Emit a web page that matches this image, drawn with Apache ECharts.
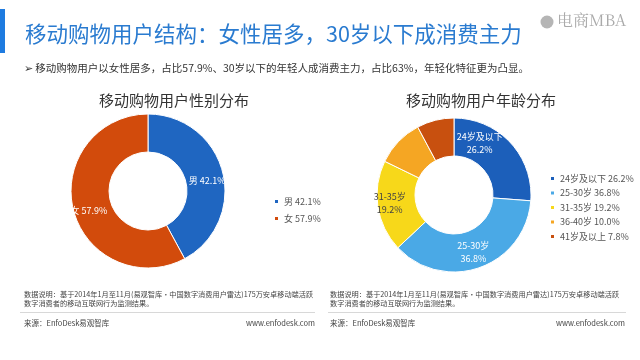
<!DOCTYPE html>
<html><head><meta charset="utf-8">
<script src="https://cdn.jsdelivr.net/npm/echarts@6/dist/echarts.min.js"></script>
<style>html,body{margin:0;padding:0;background:#fff}#c{width:640px;height:360px}</style>
</head><body><div id="c"></div>
<script>
const genderNames = ['男', '女'];
const genderValues = [42.1, 57.9];
const ageNames = ['24岁及以下', '25-30岁', '31-35岁', '36-40岁', '41岁及以上'];
const ageValues = [26.2, 36.8, 19.2, 10.0, 7.8];
const ageShowLabel = [true, true, true, false, false];

const genderColors = ['#1f66c1', '#d24b0c'];
const ageColors = ['#1c5fba', '#4aa9e6', '#f7d81a', '#f5a623', '#c8500f'];
const FONT = '"Noto Sans CJK SC", "Noto Sans", sans-serif';

const chart = echarts.init(document.getElementById('c'));
const gMap = {}; genderNames.forEach((n,i)=>gMap[n]=genderValues[i]);
const aMap = {}; ageNames.forEach((n,i)=>aMap[n]=ageValues[i]);
const fmt = v => v.toFixed(1) + '%';
const genderOffsets = [[0, 5], [0, 5]];
const ageOffsets = [[-19, -10], [-1, 0], [-4, -1], [0, 0], [0, 0]];

chart.setOption({
  backgroundColor: '#fff',
  animation: false,
  title: [
    {text: '移动购物用户结构：女性居多，30岁以下成消费主力', left: 20, top: 18,
     textStyle: {fontFamily: FONT, fontSize: 21.5, fontWeight: 'normal', color: '#2a7bd0'}},
    {text: '移动购物用户性别分布', left: 169, top: 88, textAlign: 'center',
     textStyle: {fontFamily: FONT, fontSize: 15, fontWeight: 'normal', color: '#333'}},
    {text: '移动购物用户年龄分布', left: 476, top: 88, textAlign: 'center',
     textStyle: {fontFamily: FONT, fontSize: 15, fontWeight: 'normal', color: '#333'}}
  ],
  legend: [
    {data: genderNames, orient: 'vertical', left: 268, top: 192, itemWidth: 5, itemHeight: 5, itemGap: 8,
     icon: 'rect', formatter: n => n + ' ' + fmt(gMap[n]),
     textStyle: {fontFamily: FONT, fontSize: 9, color: '#555'}},
    {data: ageNames, orient: 'vertical', left: 544, top: 169, itemWidth: 5, itemHeight: 5, itemGap: 5.5,
     icon: 'rect', formatter: n => n + ' ' + fmt(aMap[n]),
     textStyle: {fontFamily: FONT, fontSize: 9, color: '#555'}}
  ],
  series: [
    {type: 'pie', center: [148, 191], radius: [39, 77], startAngle: 90, clockwise: true,
     itemStyle: {borderColor: '#fff', borderWidth: 1},
     label: {show: true, position: 'inside', color: '#fff', fontFamily: FONT, fontSize: 9, overflow: 'none',
             formatter: p => p.name + ' ' + fmt(p.value)},
     labelLine: {show: false},
     data: genderNames.map((n,i)=>({name: n, value: genderValues[i], itemStyle: {color: genderColors[i]},
       label: {offset: genderOffsets[i]}}))},
    {type: 'pie', center: [454, 195], radius: [39, 77], startAngle: 90, clockwise: true,
     itemStyle: {borderColor: '#fff', borderWidth: 1},
     label: {show: true, position: 'inside', fontFamily: FONT, fontSize: 9, lineHeight: 13, overflow: 'none',
             formatter: p => p.name + '\n' + fmt(p.value)},
     labelLine: {show: false},
     data: ageNames.map((n,i)=>({name: n, value: ageValues[i],
       itemStyle: {color: ageColors[i]},
       label: {show: ageShowLabel[i], color: i === 2 ? '#444' : '#fff', offset: ageOffsets[i]}}))}
  ],
  graphic: [
    {type: 'rect', shape: {x: 0, y: 9, width: 5, height: 44}, style: {fill: '#1e7be0'}},
    {type: 'circle', shape: {cx: 547, cy: 22, r: 6.5}, style: {fill: '#b5b5b5'}},
    {type: 'text', left: 557, top: 12, style: {text: '电商MBA', fill: '#aaaaaa', font: '16px "Noto Serif CJK SC", "DejaVu Serif", serif'}},
    {type: 'text', left: 24, top: 63, style: {text: '➢ 移动购物用户以女性居多，占比57.9%、30岁以下的年轻人成消费主力，占比63%，年轻化特征更为凸显。', fill: '#333', font: '10.5px ' + FONT}},
    {type: 'text', left: 24, top: 290, style: {text: '数据说明：基于2014年1月至11月(易观智库·中国数字消费用户雷达)175万安卓移动端活跃\n数字消费者的移动互联网行为监测结果。', fill: '#444', font: '7.2px ' + FONT, lineHeight: 9}},
    {type: 'text', left: 330, top: 290, style: {text: '数据说明：基于2014年1月至11月(易观智库·中国数字消费用户雷达)175万安卓移动端活跃\n数字消费者的移动互联网行为监测结果。', fill: '#444', font: '7.2px ' + FONT, lineHeight: 9}},
    {type: 'rect', shape: {x: 20, y: 312, width: 295, height: 1}, style: {fill: '#d8d8d8'}},
    {type: 'rect', shape: {x: 328, y: 312, width: 298, height: 1}, style: {fill: '#d8d8d8'}},
    {type: 'text', left: 24, top: 319, style: {text: '来源：EnfoDesk易观智库', fill: '#444', font: '7.5px ' + FONT}},
    {type: 'text', left: 330, top: 319, style: {text: '来源：EnfoDesk易观智库', fill: '#444', font: '7.5px ' + FONT}},
    {type: 'text', right: 325, top: 319, style: {text: 'www.enfodesk.com', fill: '#444', font: '7.5px ' + FONT}},
    {type: 'text', right: 15, top: 319, style: {text: 'www.enfodesk.com', fill: '#444', font: '7.5px ' + FONT}}
  ]
});
</script></body></html>
